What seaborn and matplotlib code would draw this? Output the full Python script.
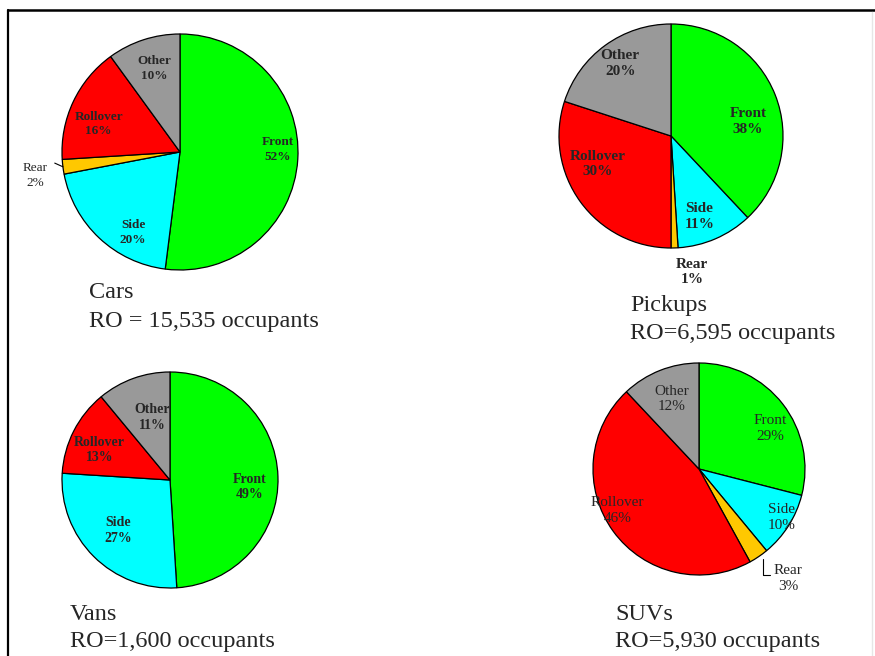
import numpy as np
import matplotlib.pyplot as plt
from matplotlib.lines import Line2D
import seaborn as sns

# %%
# Data: share of restrained occupants (RO) by crash type, per vehicle class
cars_cats = ['Front', 'Side', 'Rear', 'Rollover', 'Other']
cars_pct = [52, 20, 2, 16, 10]

pickups_cats = ['Front', 'Side', 'Rear', 'Rollover', 'Other']
pickups_pct = [38, 11, 1, 30, 20]

vans_cats = ['Front', 'Side', 'Rollover', 'Other']
vans_pct = [49, 27, 13, 11]

suvs_cats = ['Front', 'Side', 'Rear', 'Rollover', 'Other']
suvs_pct = [29, 10, 3, 46, 12]

vehicle_names = ['Cars', 'Pickups', 'Vans', 'SUVs']
ro_labels = ['RO = 15,535 occupants', 'RO=6,595 occupants',
             'RO=1,600 occupants', 'RO=5,930 occupants']
# %%

sns.set_style('white')
plt.rcParams['font.family'] = ['Liberation Serif', 'DejaVu Serif']

palette = {'Front': '#00ff00', 'Side': '#00ffff', 'Rear': '#ffc800',
           'Rollover': '#ff0000', 'Other': '#999999'}

W, H = 875, 656
fig = plt.figure(figsize=(W / 100, H / 100), dpi=100)

# layout per pie: centre/radius in px, label (distance, angle shift) per wedge
layout = [
    dict(c=(180, 152), r=118, fs=9.5, fw='bold',
         lab=[(0.83, 5), (0.79, 13), (1.24, 2), (0.73, 6), (0.74, -1)],
         cap=(89, 298, 327)),
    dict(c=(671, 136), r=112, fs=11, fw='bold',
         lab=[(0.70, -11), (0.76, -4), (1.23, 7), (0.70, -15), (0.79, -1)],
         cap=(630, 311, 339)),
    dict(c=(170, 480), r=108, fs=10, fw='bold',
         lab=[(0.74, -7), (0.67, -1), (0.71, 4), (0.60, -4)],
         cap=(70, 620, 647)),
    dict(c=(699, 469), r=106, fs=11, fw='normal',
         lab=[(0.77, -8), (0.90, 2), (1.33, 5), (0.86, -9), (0.71, 0)],
         cap=(615, 620, 647)),
]
series = [(cars_cats, cars_pct), (pickups_cats, pickups_pct),
          (vans_cats, vans_pct), (suvs_cats, suvs_pct)]

pad = 1.02
for (cats, vals), lo, name, ro in zip(series, layout, vehicle_names, ro_labels):
    cx, cy = lo['c']
    r = lo['r']
    ax = fig.add_axes([(cx - r * pad) / W, 1 - (cy + r * pad) / H,
                       2 * r * pad / W, 2 * r * pad / H])
    wedges, _ = ax.pie(vals, colors=[palette[c] for c in cats], startangle=90,
                       counterclock=False, radius=1,
                       wedgeprops=dict(edgecolor='black', linewidth=0.9))
    ax.set_xlim(-pad, pad)
    ax.set_ylim(-pad, pad)
    ax.set_aspect('equal')
    ax.axis('off')

    for w, cat, v, (dist, shift) in zip(wedges, cats, vals, lo['lab']):
        mid = np.deg2rad((w.theta1 + w.theta2) / 2 + shift)
        ax.text(dist * np.cos(mid), dist * np.sin(mid), f'{cat}\n{v}%',
                ha='center', va='center', fontsize=lo['fs'],
                fontweight=lo['fw'] if cat != 'Rear' or name == 'Pickups' else 'normal',
                linespacing=1.25, clip_on=False)
        if cat == 'Rear' and name != 'Pickups':
            a = np.deg2rad((w.theta1 + w.theta2) / 2)
            x0, y0 = np.cos(a), np.sin(a)
            if name == 'Cars':
                ax.plot([x0, 1.07 * x0], [y0, 1.07 * y0 + 0.04], color='black',
                        lw=0.8, clip_on=False)
            else:
                ax.plot([x0 + 0.04, x0 + 0.04, x0 + 0.11],
                        [y0 - 0.02, y0 - 0.17, y0 - 0.17], color='black',
                        lw=0.8, clip_on=False)

    lx, y1, y2 = lo['cap']
    fig.text(lx / W, 1 - y1 / H, name, fontsize=17.5, va='baseline')
    fig.text(lx / W, 1 - y2 / H, ro, fontsize=17.5, va='baseline')

# page frame
fig.add_artist(Line2D([8 / W, 8 / W], [0, 1 - 10 / H], color='black', lw=1.6))
fig.add_artist(Line2D([8 / W, 1], [1 - 10 / H, 1 - 10 / H], color='black', lw=1.8))
fig.add_artist(Line2D([872 / W, 872 / W], [0, 1 - 12 / H], color='#e6e6e6', lw=1))

fig.savefig('out.png', dpi=100)
